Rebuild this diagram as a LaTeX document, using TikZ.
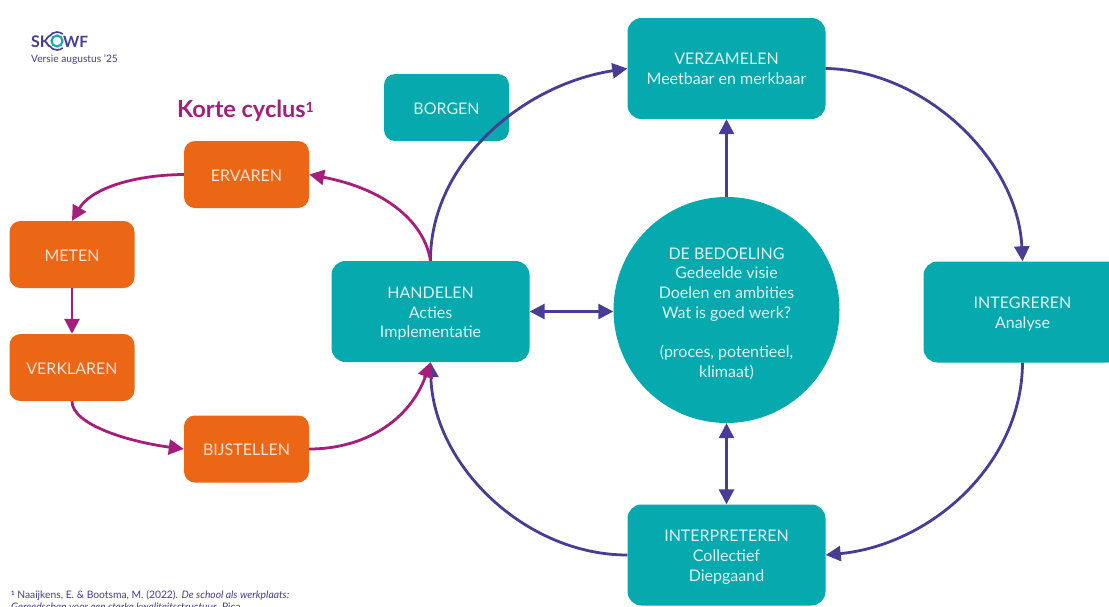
\documentclass[tikz,border=0pt]{standalone}
\usepackage{fontspec}
\setmainfont{Lato}
\usetikzlibrary{arrows.meta}
\definecolor{tealbox}{HTML}{06A9AE}
\definecolor{orangebox}{HTML}{EC6715}
\definecolor{plum}{HTML}{A61E7C}
\definecolor{indigo}{HTML}{483C94}
\definecolor{softtext}{HTML}{DDF3F2}
\definecolor{softorange}{HTML}{FBE3D3}
\newcommand{\raiseby}[1]{\rule{0pt}{#1}}
\tikzset{
  x=1pt,y=-1pt,
  lift/.style={execute at begin node={\rule{0pt}{#1}}},
  boxtext/.style={align=center,font=\fontsize{16}{19.7}\selectfont,inner sep=0pt},
  bigteal/.style={boxtext,fill=tealbox,rounded corners=14pt,minimum width=198pt,minimum height=101pt,text=softtext},
  smallteal/.style={boxtext,fill=tealbox,rounded corners=11pt,minimum width=125pt,minimum height=67pt,text=softtext},
  orangestep/.style={boxtext,lift=13pt,fill=orangebox,rounded corners=11pt,minimum width=125pt,minimum height=67pt,text=softorange},
  hub/.style={boxtext,circle,fill=tealbox,minimum size=226pt,text=softtext},
  longline/.style={indigo,line width=2.8pt,-{Triangle[length=15pt,width=15pt]}},
  twoway/.style={indigo,line width=2.8pt,{Triangle[length=15pt,width=15pt]}-{Triangle[length=15pt,width=15pt]}},
  shortline/.style={plum,line width=2.8pt,-{Triangle[length=15pt,width=15pt]}},
  smalltext/.style={text=indigo,inner sep=0pt,anchor=west}
}
\begin{document}
\begin{tikzpicture}
\useasboundingbox (0,0) rectangle (1109,606);
\clip (0,0) rectangle (1109,606);
\fill[white] (0,0) rectangle (1109,606);

\node[bigteal] (verz) at (726.5,68.5) {VERZAMELEN\\Meetbaar en merkbaar};
\node[smallteal,lift=15pt] (borgen) at (446.5,107.5) {BORGEN};
\node[hub] (bed) at (726.5,310) {\raiseby{19pt}DE BEDOELING\\Gedeelde visie\\Doelen en ambities\\Wat is goed werk?\\[19.7pt](proces, potentieel,\\klimaat)};
\node[bigteal] (hand) at (430.5,311.5) {\raiseby{16pt}HANDELEN\\Acties\\Implementatie};
\node[bigteal] (integ) at (1022.5,312) {\raiseby{16pt}INTEGREREN\\Analyse};
\node[bigteal] (inter) at (726.5,555) {\raiseby{16pt}INTERPRETEREN\\Collectief\\Diepgaand};
\node[orangestep] (erv) at (246.5,174.5) {ERVAREN};
\node[orangestep] (met) at (72,254.5) {METEN};
\node[orangestep] (verk) at (72,367.5) {VERKLAREN};
\node[orangestep] (bij) at (246.5,449) {BIJSTELLEN};

\node[text=plum,inner sep=0pt,anchor=base west,font=\fontsize{23.5}{26}\selectfont\bfseries] (kort) at (177,117) {Korte cyclus\raisebox{5pt}{\fontsize{14}{14}\selectfont 1}};

% logo
\node[text=indigo,inner sep=0pt,anchor=base west,font=\fontsize{16}{18}\selectfont\bfseries] (sk) at (31,47) {SK};
\node[circle,draw=tealbox,line width=2pt,minimum size=11pt,inner sep=0pt] (ring) at (57,41) {};
\draw[indigo,line width=1.6pt] (ring.center) ++(150:9pt) arc[start angle=150,end angle=50,radius=9pt,y=1pt];
\draw[indigo,line width=1.6pt] (ring.center) ++(-150:9pt) arc[start angle=-150,end angle=-50,radius=9pt];
\node[text=indigo,inner sep=0pt,anchor=base west,font=\fontsize{15.5}{18}\selectfont\bfseries] (wf) at (63,47) {WF};
\node[smalltext,anchor=base west,font=\fontsize{10.2}{12}\selectfont] (versie) at (31,62) {Versie augustus ’25};

% footnote
\node[smalltext,anchor=base west,font=\fontsize{10.3}{12}\selectfont] (fn1) at (11,598) {\raisebox{3pt}{\fontsize{6}{6}\selectfont\bfseries 1} Naaijkens, E. \& Bootsma, M. (2022). \textit{De school als werkplaats:}};
\node[smalltext,anchor=base west,font=\fontsize{10.3}{12}\selectfont] (fn2) at (11,610) {\textit{Gereedschap voor een sterke kwaliteitsstructuur.} Pica.};

% outer cycle
\draw[longline] (hand.north) .. controls (430,165) and (520,85) .. (verz.west);
\draw[longline] (verz.east) .. controls (925,70) and (1018,160) .. (integ.north);
\draw[longline] (integ.south) .. controls (1022,465) and (930,545) .. (inter.east);
\draw[longline] (inter.west) .. controls (525,555) and (433,465) .. (hand.south);
\draw[twoway] (hand.east) -- (bed.west |- hand.east);
\draw[longline] (bed.north) -- (verz.south);
\draw[twoway] (bed.south) -- (inter.north);

% short cycle
\draw[shortline] (hand.north) .. controls (425,225) and (390,190) .. (erv.east);
\draw[shortline] (bij.east) .. controls (365,449) and (410,420) .. (hand.south);
\draw[shortline] (erv.west) .. controls (130,175) and (90,190) .. (met.north);
\draw[shortline] (met.south) -- (verk.north);
\draw[shortline] (verk.south) .. controls (72,425) and (130,442) .. (bij.west);
\end{tikzpicture}
\end{document}
